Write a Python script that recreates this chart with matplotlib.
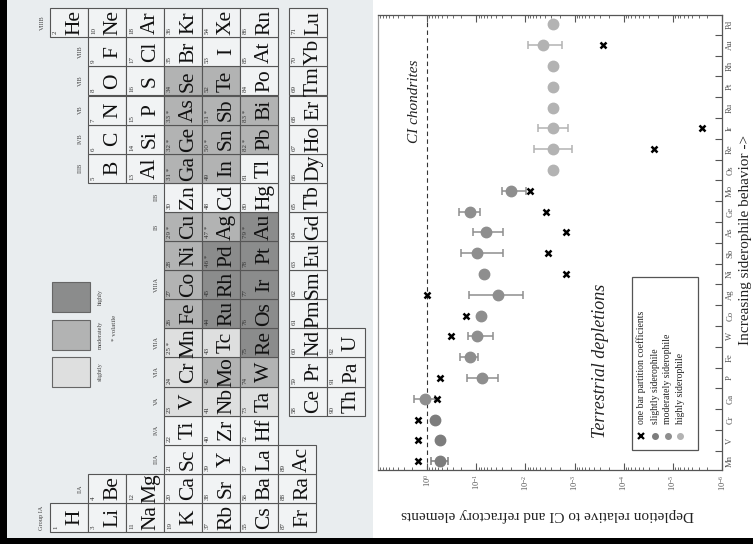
import matplotlib
matplotlib.use("Agg")
import matplotlib.pyplot as plt
from matplotlib.patches import Rectangle
from matplotlib.ticker import FixedLocator, NullFormatter, FixedFormatter, LogLocator
import numpy as np

plt.rcParams['font.family'] = ['Liberation Serif', 'DejaVu Serif']
plt.rcParams['mathtext.fontset'] = 'custom'
plt.rcParams['mathtext.rm'] = 'Liberation Serif'
plt.rcParams['mathtext.it'] = 'Liberation Serif:italic'

W, H = 753, 544

# ---------------- depletion chart data ----------------
elements = ["Mn", "V", "Cr", "Ga", "P", "Fe", "W", "Co", "Ag", "Ni", "Sb",
            "As", "Ge", "Mo", "Os", "Re", "Ir", "Ru", "Pt", "Rh", "Au", "Pd"]
sid_class = ["slight", "slight", "slight", "moderate", "moderate", "moderate",
             "moderate", "moderate", "moderate", "moderate", "moderate",
             "moderate", "moderate", "moderate", "high", "high", "high",
             "high", "high", "high", "high", "high"]
depletion = [0.55, 0.56, 0.70, 1.12, 0.075, 0.135, 0.095, 0.079, 0.036, 0.069,
             0.095, 0.062, 0.136, 0.0195, 0.0028, 0.0028, 0.0028, 0.0028,
             0.0028, 0.0028, 0.0043, 0.0028]
dep_upper = [0.85, None, None, 1.86, 0.158, 0.21, 0.15, None, 0.14, None,
             0.20, 0.117, 0.225, 0.0295, None, 0.0066, 0.0056, None, None,
             None, 0.009, None]
dep_lower = [0.37, None, None, 0.68, 0.037, 0.091, 0.045, None, 0.011, None,
             0.028, 0.028, 0.085, 0.0098, None, 0.00115, 0.00138, None, None,
             None, 0.00178, None]
partition = [1.55, 1.55, 1.55, 0.63, 0.54, None, 0.32, 0.16, 1.0, 0.0015,
             0.0034, 0.0015, 0.0039, 0.0079, None, 2.45e-5, 2.5e-6, None,
             None, None, 2.6e-4, None]
class_colors = {"slight": "#7d7d7d", "moderate": "#8e8e8e", "high": "#b3b3b3"}
class_labels = {"slight": "slightly siderophile",
                "moderate": "moderately siderophile",
                "high": "highly siderophile"}

# ---------------- periodic table data ----------------
pt_symbols = ["H", "He",
              "Li", "Be", "B", "C", "N", "O", "F", "Ne",
              "Na", "Mg", "Al", "Si", "P", "S", "Cl", "Ar",
              "K", "Ca", "Sc", "Ti", "V", "Cr", "Mn", "Fe", "Co", "Ni", "Cu",
              "Zn", "Ga", "Ge", "As", "Se", "Br", "Kr",
              "Rb", "Sr", "Y", "Zr", "Nb", "Mo", "Tc", "Ru", "Rh", "Pd", "Ag",
              "Cd", "In", "Sn", "Sb", "Te", "I", "Xe",
              "Cs", "Ba", "La", "Hf", "Ta", "W", "Re", "Os", "Ir", "Pt", "Au",
              "Hg", "Tl", "Pb", "Bi", "Po", "At", "Rn",
              "Fr", "Ra", "Ac",
              "Ce", "Pr", "Nd", "Pm", "Sm", "Eu", "Gd", "Tb", "Dy", "Ho", "Er",
              "Tm", "Yb", "Lu",
              "Th", "Pa", "U"]
pt_numbers = ([1, 2] + list(range(3, 11)) + list(range(11, 19)) +
              list(range(19, 37)) + list(range(37, 55)) +
              [55, 56, 57] + list(range(72, 87)) + [87, 88, 89] +
              list(range(58, 72)) + [90, 91, 92])
pt_groups = ([1, 18] + [1, 2] + list(range(13, 19)) + [1, 2] + list(range(13, 19)) +
             list(range(1, 19)) + list(range(1, 19)) + list(range(1, 19)) +
             [1, 2, 3] + list(range(5, 19)) + [5, 6, 7])
pt_rows = ([1] * 2 + [2] * 8 + [3] * 8 + [4] * 18 + [5] * 18 + [6] * 18 +
           [7] * 3 + [8] * 14 + [9] * 3)
pt_class = {"V": "slight", "Cr": "slight", "Mn": "slight", "Nb": "slight",
            "Tc": "slight", "Ta": "slight",
            "Fe": "moderate", "Co": "moderate", "Ni": "moderate", "Cu": "moderate",
            "Mo": "moderate", "W": "moderate", "Ag": "moderate", "Ga": "moderate",
            "Ge": "moderate", "As": "moderate", "Se": "moderate", "In": "moderate",
            "Sn": "moderate", "Sb": "moderate", "Te": "moderate", "Pb": "moderate",
            "Bi": "moderate",
            "Ru": "high", "Rh": "high", "Pd": "high", "Re": "high", "Os": "high",
            "Ir": "high", "Pt": "high", "Au": "high"}
volatile = ["Mn", "Cu", "Ga", "Ge", "As", "Pd", "Ag", "Sn", "Sb", "Au", "Pb", "Bi"]
pt_fill = {"slight": "#dedfdf", "moderate": "#b2b3b3", "high": "#8b8c8c",
           None: "#f1f3f4"}
group_names = ["Group IA", "IIA", "IIIA", "IVA", "VA", "VIA", "VIIA", "VIIIA",
               "", "", "IB", "IIB", "IIIB", "IVB", "VB", "VIB", "VIIB", "VIIIB"]
group_label_group = [1, 2, 3, 4, 5, 6, 7, 9, None, None, 11, 12, 13, 14, 15, 16, 17, 18]

# ---------------- figure ----------------
fig = plt.figure(figsize=(W / 100, H / 100), dpi=100)
fig.patch.set_facecolor("white")
bg = fig.add_axes([0, 0, 1, 1], zorder=0)
bg.set_xlim(0, W)
bg.set_ylim(H, 0)
bg.axis("off")

# page background and dark border strips
bg.add_patch(Rectangle((7, 0), 366, 538, facecolor="#e9edef", edgecolor="none"))
bg.add_patch(Rectangle((0, 0), 7, H, facecolor="black", edgecolor="none"))
bg.add_patch(Rectangle((0, 538), W, 6, facecolor="black", edgecolor="none"))

# periodic table layout (rotated page: periods run left->right, groups bottom->top)
cell_w, cell_h = 38.0, 29.1
row_x0 = {r: 50 + (r - 1) * 38.0 for r in range(1, 8)}
row_x0[8] = 289.0
row_x0[9] = 327.0
group_y_bottom = lambda g: 532.0 - (g - 1) * cell_h

first_row_in_group = {}
for sym, z, g, r in zip(pt_symbols, pt_numbers, pt_groups, pt_rows):
    x0 = row_x0[r]
    yb = group_y_bottom(g)
    cls = pt_class.get(sym)
    bg.add_patch(Rectangle((x0, yb - cell_h), cell_w, cell_h,
                           facecolor=pt_fill[cls], edgecolor="#555555", lw=0.8))
    num = f"{z}" + (" *" if sym in volatile else "")
    bg.text(x0 + 3, yb - 3, num, rotation=90, rotation_mode="anchor",
            ha="left", va="top", fontsize=5, color="#333333")
    bg.text(x0 + 29, yb - cell_h / 2, sym, rotation=90, rotation_mode="anchor",
            ha="center", va="baseline", fontsize=15.5, color="#111111")
    if r <= 7:
        first_row_in_group[g] = min(first_row_in_group.get(g, 99), r)

for name, g in zip(group_names, group_label_group):
    if not name:
        continue
    r = first_row_in_group[g]
    bg.text(row_x0[r] - 8, group_y_bottom(g) - cell_h / 2, name, rotation=90,
            ha="center", va="center", fontsize=4.5, color="#444444")

# periodic table shading key
for i, cls in enumerate(["slight", "moderate", "high"]):
    yb = 387 - i * 37.5
    bg.add_patch(Rectangle((52, yb - 30), 38, 30, facecolor=pt_fill[cls],
                           edgecolor="#666666", lw=0.8))
    bg.text(100, yb - 15, ["slightly", "moderately", "highly"][i], rotation=90,
            ha="center", va="center", fontsize=4.5, color="#444444")
bg.text(115, 328, "* volatile", rotation=90, ha="center", va="center",
        fontsize=5, color="#444444")

# ---------------- depletion chart ----------------
ax = fig.add_axes([378 / W, 74 / H, 344 / W, 455 / H], zorder=2)
ax.set_facecolor("white")
ax.set_xscale("log")
ax.set_xlim(10, 1e-6)
ax.set_ylim(-0.42, 21.45)

pos = np.arange(len(elements))
for i, (d, hi, lo, cls) in enumerate(zip(depletion, dep_upper, dep_lower, sid_class)):
    c = class_colors[cls]
    if hi is not None:
        ax.errorbar([d], [pos[i]], xerr=[[d - lo], [hi - d]], fmt="none",
                    ecolor=c, elinewidth=1.1, capsize=3, capthick=1.1, zorder=3)
    ax.plot([d], [pos[i]], "o", color=c, ms=7.5, mec=c, zorder=4)

px = [p for p, v in zip(pos, partition) if v is not None]
pv = [v for v in partition if v is not None]
ax.plot(pv, px, "x", color="black", ms=5, mew=1.8, zorder=5)

ax.axvline(1.0, color="#333333", lw=0.8, ls=(0, (4, 3)), zorder=1)

# axes styling
for s in ax.spines.values():
    s.set_color("#555555")
    s.set_linewidth(0.9)
ax.spines["left"].set_color("#9a9a9a")
ax.xaxis.set_major_locator(LogLocator(base=10, numticks=10))
ax.xaxis.set_minor_locator(LogLocator(base=10, subs=np.arange(2, 10), numticks=20))
ax.tick_params(axis="x", which="both", direction="in", top=True, bottom=True,
               color="#555555")
ax.tick_params(axis="x", which="major", length=5, labelsize=6, labelrotation=90,
               labelcolor="#555555", pad=3)
ax.tick_params(axis="x", which="minor", length=2.5)
ax.set_xticks([1e0, 1e-1, 1e-2, 1e-3, 1e-4, 1e-5, 1e-6])

ax.yaxis.tick_right()
ax.yaxis.set_major_locator(FixedLocator(pos[:-1] + 0.5))
ax.yaxis.set_major_formatter(NullFormatter())
ax.yaxis.set_minor_locator(FixedLocator(pos))
ax.yaxis.set_minor_formatter(FixedFormatter(elements))
ax.tick_params(axis="y", which="major", direction="in", length=5, right=True,
               left=False, color="#555555")
ax.tick_params(axis="y", which="minor", length=0, labelsize=6.2,
               labelcolor="#555555", labelrotation=90, pad=3, right=True, left=False)
for lbl in ax.yaxis.get_minorticklabels():
    lbl.set_verticalalignment("center")
    lbl.set_horizontalalignment("left")

# annotations
ax.text(0.105, 0.81, "CI chondrites", transform=ax.transAxes, rotation=90,
        ha="center", va="center", fontsize=11, style="italic", color="#222222")
ax.text(0.648, 0.24, "Terrestrial depletions", transform=ax.transAxes,
        rotation=90, ha="center", va="center", fontsize=13, style="italic",
        color="#222222")

# key box
kx0, ky0, kw, kh = 0.738, 0.044, 0.192, 0.381
ax.add_patch(Rectangle((kx0, ky0), kw, kh, transform=ax.transAxes,
                       facecolor="white", edgecolor="#555555", lw=0.9, zorder=6))
key_x = [0.764, 0.806, 0.842, 0.878]
key_marker_y = 0.045 + 0.030
ax.plot([key_x[0]], [key_marker_y], "x", transform=ax.transAxes, color="black",
        ms=4.5, mew=1.6, zorder=7, clip_on=False)
ax.text(key_x[0], key_marker_y + 0.025, "one bar partition coefficients",
        transform=ax.transAxes, rotation=90, ha="center", va="bottom",
        fontsize=7, color="#222222", zorder=7)
for kx, cls in zip(key_x[1:], ["slight", "moderate", "high"]):
    ax.plot([kx], [key_marker_y], "o", transform=ax.transAxes,
            color=class_colors[cls], ms=4, zorder=7, clip_on=False)
    ax.text(kx, key_marker_y + 0.025, class_labels[cls], transform=ax.transAxes,
            rotation=90, ha="center", va="bottom", fontsize=7, color="#222222",
            zorder=7)

bg.text(548, 515, "Depletion relative to CI and refractory elements",
        rotation=180, ha="center", va="center", fontsize=11, color="#222222")
bg.text(746, 240, "Increasing siderophile behavior ->", rotation=90,
        ha="center", va="center", fontsize=11, color="#222222")

fig.savefig("out.png", dpi=100)
